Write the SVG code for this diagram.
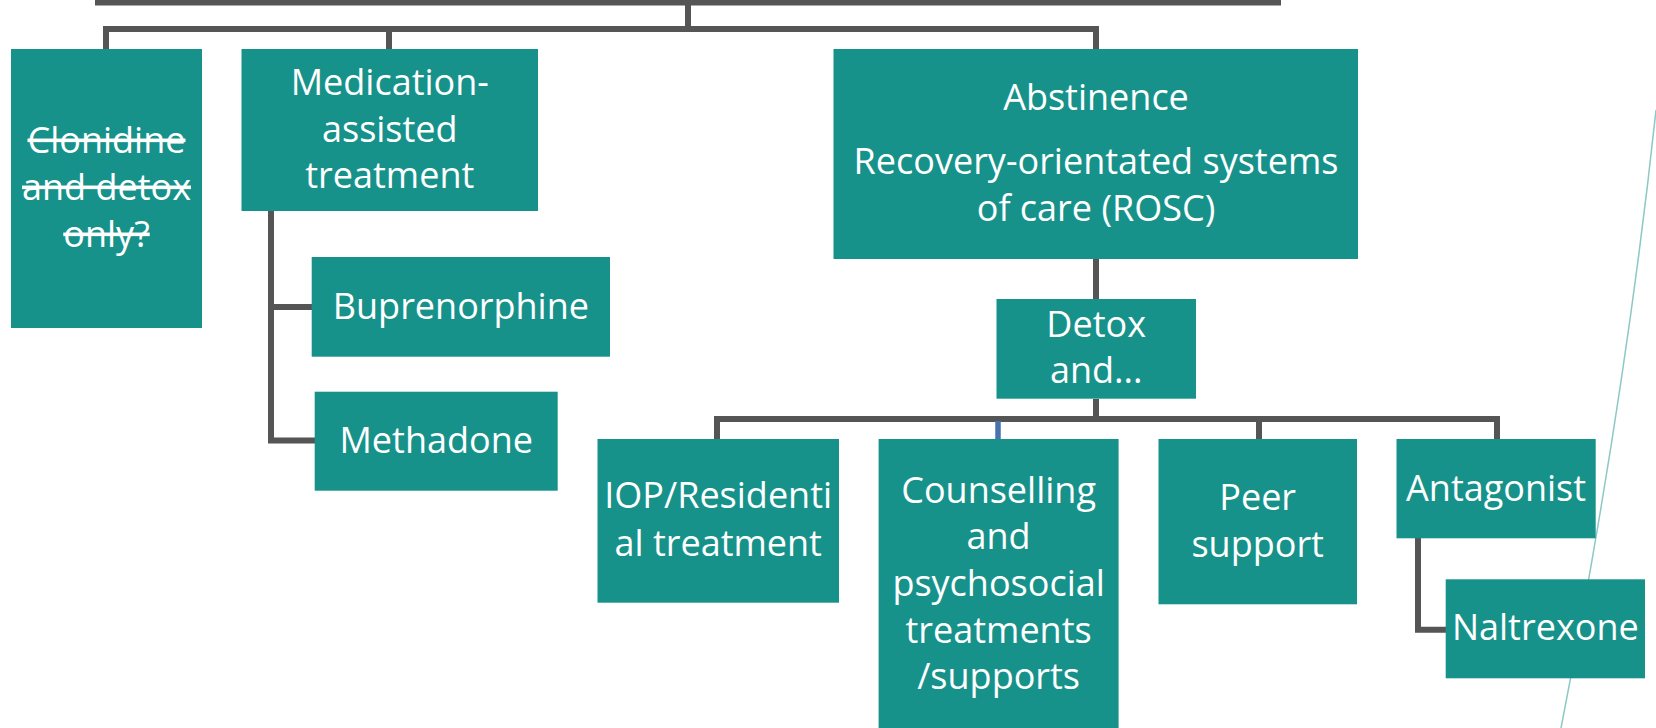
<svg xmlns="http://www.w3.org/2000/svg" width="1656" height="728" viewBox="0 0 1656 728">
<style>
.box{fill:#17928B}
.t{font-family:"Open Sans","Noto Sans",sans-serif;font-size:36px;fill:#FFFFFF;text-anchor:middle}
.c{fill:none;stroke:#555555;stroke-width:6;stroke-linejoin:miter}
.s{text-decoration:line-through}
</style>
<rect x="0" y="0" width="1656" height="728" fill="#FFFFFF"/>
<path d="M1656,110 Q1625,400 1561,728" fill="none" stroke="#8CC8C6" stroke-width="1.5"/>
<g id="connectors">
<rect x="95" y="0" width="1186" height="5.5" fill="#555555"/>
<path class="c" d="M688,3 V29"/>
<path class="c" d="M106,49 V29 H1096 V49"/>
<path class="c" d="M389,29 V49"/>
<path class="c" d="M271,211 V440.5 H315"/>
<path class="c" d="M271,307 H312"/>
<path class="c" d="M1096,259 V299"/>
<path class="c" d="M1096,399 V419"/>
<path class="c" d="M717,439 V419 H1497 V439"/>
<path class="c" d="M1259,419 V439"/>
<path d="M998,421 V439" fill="none" stroke="#4A72B0" stroke-width="5.5"/>
<path class="c" d="M1418,538 V629.7 H1446"/>
</g>
<g id="clonidine">
<rect class="box" x="11" y="49" width="191" height="279"/>
<text class="t s" x="106.5" y="153">Clonidine</text>
<text class="t s" x="106.5" y="200">and detox</text>
<text class="t s" x="106.5" y="247">only?</text>
</g>
<g id="medication">
<rect class="box" x="241.5" y="49" width="296.5" height="162"/>
<text class="t" x="389.8" y="95">Medication-</text>
<text class="t" x="389.8" y="141.7">assisted</text>
<text class="t" x="389.8" y="188.3">treatment</text>
</g>
<g id="buprenorphine">
<rect class="box" x="311.7" y="257" width="298.3" height="99.7"/>
<text class="t" x="460.9" y="319">Buprenorphine</text>
</g>
<g id="methadone">
<rect class="box" x="314.7" y="391.7" width="243" height="99"/>
<text class="t" x="436.2" y="453">Methadone</text>
</g>
<g id="abstinence">
<rect class="box" x="833.5" y="49" width="524.5" height="210"/>
<text class="t" x="1096" y="110">Abstinence</text>
<text class="t" x="1096" y="174.3">Recovery-orientated systems</text>
<text class="t" x="1096" y="221">of care (ROSC)</text>
</g>
<g id="detox">
<rect class="box" x="996.5" y="299" width="199.5" height="99.7"/>
<text class="t" x="1096.2" y="336.7">Detox</text>
<text class="t" x="1096.2" y="383.3">and...</text>
</g>
<g id="iop">
<rect class="box" x="597.5" y="439" width="241.5" height="163.7"/>
<text class="t" x="718.2" y="508.3">IOP/Residenti</text>
<text class="t" x="718.2" y="555.7">al treatment</text>
</g>
<g id="counselling">
<rect class="box" x="878.6" y="439" width="240" height="289"/>
<text class="t" x="998.6" y="502.7">Counselling</text>
<text class="t" x="998.6" y="549.3">and</text>
<text class="t" x="998.6" y="596">psychosocial</text>
<text class="t" x="998.6" y="642.7">treatments</text>
<text class="t" x="998.6" y="689.3">/supports</text>
</g>
<g id="peer">
<rect class="box" x="1158.5" y="439" width="198.5" height="165.3"/>
<text class="t" x="1257.7" y="510">Peer</text>
<text class="t" x="1257.7" y="556.7">support</text>
</g>
<g id="antagonist">
<rect class="box" x="1396.5" y="439" width="199.2" height="99.3"/>
<text class="t" x="1496.1" y="500.7">Antagonist</text>
</g>
<g id="naltrexone">
<rect class="box" x="1445.7" y="579.3" width="199.3" height="99"/>
<text class="t" x="1545.3" y="640">Naltrexone</text>
</g>
</svg>
